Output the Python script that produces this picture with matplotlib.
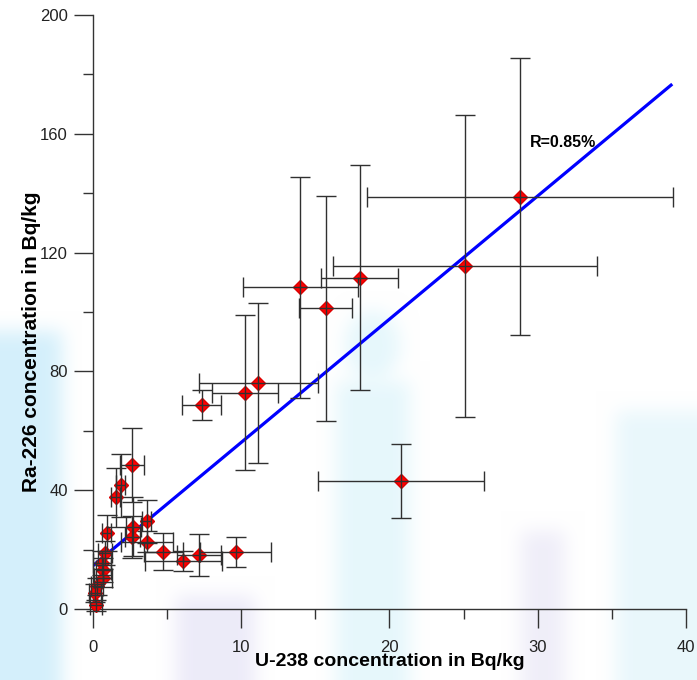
import matplotlib
matplotlib.use("Agg")
import matplotlib.pyplot as plt
import numpy as np
from matplotlib.ticker import MultipleLocator

plt.rcParams['font.family'] = ['Liberation Sans', 'DejaVu Sans']

# U-238 (x) and Ra-226 (y) in Bq/kg, with uncertainties
u238 = [28.8, 25.1, 18.0, 14.0, 15.7, 11.15, 10.25, 7.33, 20.8,
        2.65, 1.86, 1.53, 0.92, 2.72, 2.65, 3.62, 3.62, 4.74, 6.1,
        7.15, 9.64, 0.81, 0.62, 0.7, 0.68, 0.25, 0.13, 0.2]
ra226 = [138.8, 115.5, 111.6, 108.3, 101.2, 76.0, 72.9, 68.6, 43.1,
         48.6, 41.7, 37.6, 25.6, 27.7, 24.2, 29.5, 22.7, 19.3, 16.2,
         18.2, 19.1, 18.8, 15.6, 13.1, 10.5, 7.6, 5.3, 1.2]
u238_err = [10.3, 8.9, 2.6, 3.9, 1.8, 4.0, 2.2, 1.3, 5.6,
            0.8, 0.3, 0.3, 0.3, 0.5, 0.5, 0.3, 1.75, 1.3, 2.6,
            1.5, 2.4, 0.5, 0.6, 0.5, 0.6, 0.4, 0.4, 0.4]
ra226_err = [46.6, 51.0, 38.0, 37.3, 38.0, 27.0, 26.0, 5.0, 12.6,
             12.5, 10.6, 10.0, 6.0, 10.0, 7.0, 7.2, 3.5, 6.3, 3.4,
             7.0, 5.0, 4.0, 4.0, 4.0, 3.0, 3.0, 3.0, 2.0]

# regression line end points
fit_x = [0.0, 39.0]
fit_y = [14.6, 176.4]

fig = plt.figure(figsize=(6.97, 6.80), dpi=100)

# soft watermark behind the chart (pixel grid of the figure)
H, W = 680, 697
yy, xx = np.mgrid[0:H, 0:W]
bg = np.ones((H, W, 3))

def box(m, k, axis):
    pad = [(k, k) if a == axis else (0, 0) for a in range(2)]
    c = np.cumsum(np.pad(m, pad, mode='edge'), axis=axis)
    c = np.insert(c, 0, 0, axis=axis)
    n = m.shape[axis]
    hi = np.take(c, np.arange(2 * k + 1, 2 * k + 1 + n), axis=axis)
    lo = np.take(c, np.arange(0, n), axis=axis)
    return (hi - lo) / (2 * k + 1)

def blot(mask, rgb, a):
    global bg
    m = mask.astype(float)
    for _ in range(2):
        m = box(box(m, 10, 0), 10, 1)
    m = m[..., None] * a
    bg = bg * (1 - m) + np.array(rgb) * m

blot((xx < 62) & (yy > 330), (0.78, 0.92, 0.98), 0.75)
blot((xx > 335) & (xx < 410) & (yy > 380), (0.84, 0.95, 0.98), 0.6)
blot(((xx - 372) / 28.0) ** 2 + ((yy - 345) / 35.0) ** 2 < 1, (0.84, 0.95, 0.98), 0.6)
blot((xx > 175) & (xx < 255) & (yy > 595), (0.88, 0.87, 0.96), 0.6)
blot((xx > 520) & (xx < 565) & (yy > 530), (0.90, 0.89, 0.96), 0.6)
blot((xx > 615) & (yy > 410), (0.86, 0.95, 0.98), 0.6)
fig.figimage(bg, 0, 0, origin='upper', zorder=-10)

ax = fig.add_axes([0.1334, 0.1044, 0.8506, 0.8735])
ax.patch.set_alpha(0)

ax.plot(fit_x, fit_y, color='#0000ff', lw=2.3, zorder=2)
ax.plot(u238, ra226, 'D', color='#ff0000', mec='#dd0000', ms=7.2,
        zorder=3, clip_on=False)
ax.errorbar(u238, ra226, xerr=u238_err, yerr=ra226_err, fmt='none',
            ecolor='#303030', elinewidth=1.0, capsize=7, capthick=1.0,
            zorder=4, clip_on=False)

ax.text(29.5, 155.5, 'R=0.85%', fontsize=11.5, fontweight='bold')

ax.set_xlim(0, 40)
ax.set_ylim(0, 200)
ax.xaxis.set_major_locator(MultipleLocator(10))
ax.xaxis.set_minor_locator(MultipleLocator(5))
ax.yaxis.set_major_locator(MultipleLocator(40))
ax.yaxis.set_minor_locator(MultipleLocator(20))

for s in ['top', 'right']:
    ax.spines[s].set_visible(False)
for s in ['left', 'bottom']:
    ax.spines[s].set_color('#333333')
    ax.spines[s].set_linewidth(1.0)

ax.tick_params(which='major', length=14, width=1.0, color='#333333',
               labelsize=12, labelcolor='#222222')
ax.tick_params(which='minor', length=7, width=1.0, color='#333333')
ax.tick_params(axis='x', which='major', pad=8)
ax.tick_params(axis='y', which='major', pad=4)

ax.set_xlabel('U-238 concentration in Bq/kg', fontsize=14,
              fontweight='bold', labelpad=-1)
ax.set_ylabel('Ra-226 concentration in Bq/kg', fontsize=15,
              fontweight='bold')
ax.yaxis.set_label_coords(-0.087, 0.45)

fig.savefig('out.png', dpi=100)
